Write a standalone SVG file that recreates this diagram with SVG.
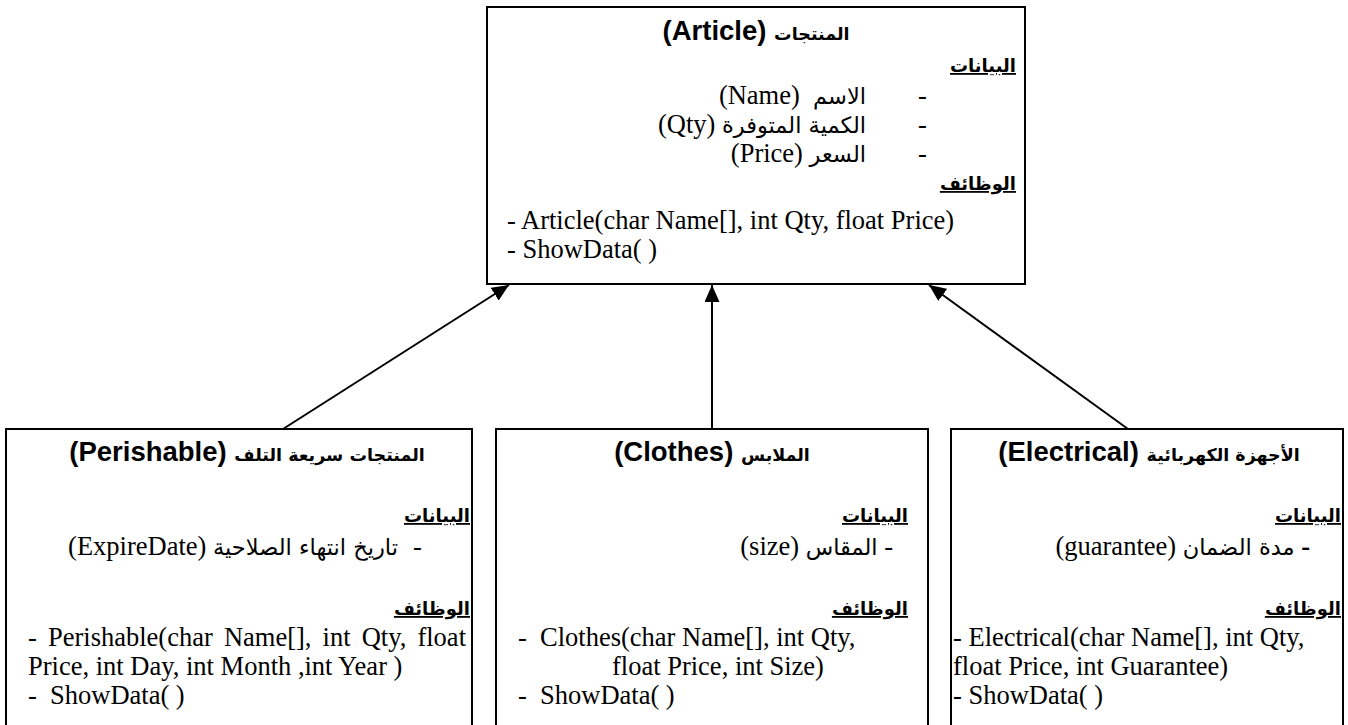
<svg xmlns="http://www.w3.org/2000/svg" width="1348" height="725" viewBox="0 0 1348 725">
<style>
.box{fill:#fff;stroke:#000;stroke-width:2}
.con{stroke:#000;stroke-width:2;fill:none}
.title{font-family:"Liberation Sans","DejaVu Sans",sans-serif;font-weight:bold;font-size:27.5px;fill:#000}
.arb{font-family:"DejaVu Sans",sans-serif;font-weight:bold;font-size:17.5px}
.head{font-family:"DejaVu Sans","Liberation Sans",sans-serif;font-weight:bold;font-size:18px;text-decoration:underline;fill:#000}
.body{font-family:"Liberation Serif","DejaVu Sans",serif;font-size:26.5px;fill:#000}
.ar{font-family:"DejaVu Sans",sans-serif;font-size:22.5px}
</style>
<defs>
<marker id="arrow" markerUnits="userSpaceOnUse" markerWidth="17" markerHeight="15" refX="17" refY="7.5" orient="auto">
<path d="M0,0 L17,7.5 L0,15 z" fill="#000"/>
</marker>
</defs>
<g id="connectors">
<line class="con" x1="283" y1="429" x2="509" y2="285" marker-end="url(#arrow)"/>
<line class="con" x1="712" y1="429" x2="712" y2="285" marker-end="url(#arrow)"/>
<line class="con" x1="1128" y1="429" x2="929" y2="285" marker-end="url(#arrow)"/>
</g>
<g id="article">
<rect class="box" x="487" y="7" width="538" height="277"/>
<text class="title" x="756" y="40" text-anchor="middle" direction="rtl"><tspan class="arb">المنتجات</tspan> (Article)</text>
<text class="head" x="1016" y="72" text-anchor="end">البيانات</text>
<text class="body" x="918" y="104">-</text>
<text class="body" x="918" y="133">-</text>
<text class="body" x="918" y="162">-</text>
<text class="body" x="866" y="104" direction="rtl" text-anchor="start" xml:space="preserve"><tspan class="ar">الاسم</tspan>  (Name)</text>
<text class="body" x="866" y="133" direction="rtl" text-anchor="start"><tspan class="ar">الكمية المتوفرة</tspan> (Qty)</text>
<text class="body" x="866" y="162" direction="rtl" text-anchor="start"><tspan class="ar">السعر</tspan> (Price)</text>
<text class="head" x="1016" y="190" text-anchor="end">الوظائف</text>
<text class="body" x="507" y="229">- Article(char Name[], int Qty, float Price)</text>
<text class="body" x="507" y="258">- ShowData( )</text>
</g>
<g id="perishable">
<rect class="box" x="6" y="429" width="466" height="310"/>
<text class="title" x="247" y="461" text-anchor="middle" direction="rtl"><tspan class="arb">المنتجات سريعة التلف</tspan> (Perishable)</text>
<text class="head" x="470" y="522" text-anchor="end">البيانات</text>
<text class="body" x="413" y="555">-</text>
<text class="body" x="398" y="555" direction="rtl" text-anchor="start"><tspan class="ar">تاريخ انتهاء الصلاحية</tspan> (ExpireDate)</text>
<text class="head" x="470" y="615" text-anchor="end">الوظائف</text>
<text class="body" x="28" y="646" word-spacing="4.5">- Perishable(char Name[], int Qty, float</text>
<text class="body" x="28" y="675">Price, int Day, int Month ,int Year )</text>
<text class="body" x="28" y="704">-</text>
<text class="body" x="50" y="704">ShowData( )</text>
</g>
<g id="clothes">
<rect class="box" x="496" y="429" width="432" height="310"/>
<text class="title" x="712" y="461" text-anchor="middle" direction="rtl"><tspan class="arb">الملابس</tspan> (Clothes)</text>
<text class="head" x="908" y="522" text-anchor="end">البيانات</text>
<text class="body" x="893" y="555" direction="rtl" text-anchor="start">- <tspan class="ar">المقاس</tspan> (size)</text>
<text class="head" x="908" y="615" text-anchor="end">الوظائف</text>
<text class="body" x="518" y="646">-</text>
<text class="body" x="540" y="646">Clothes(char Name[], int Qty,</text>
<text class="body" x="612" y="675">float Price, int Size)</text>
<text class="body" x="518" y="704">-</text>
<text class="body" x="540" y="704">ShowData( )</text>
</g>
<g id="electrical">
<rect class="box" x="951" y="429" width="392" height="310"/>
<text class="title" x="1149" y="461" text-anchor="middle" direction="rtl"><tspan class="arb">الأجهزة الكهربائية</tspan> (Electrical)</text>
<text class="head" x="1341" y="522" text-anchor="end">البيانات</text>
<text class="body" x="1310" y="555" direction="rtl" text-anchor="start"><tspan font-weight="bold">-</tspan> <tspan class="ar">مدة الضمان</tspan> (guarantee)</text>
<text class="head" x="1341" y="615" text-anchor="end">الوظائف</text>
<text class="body" x="953" y="646">- Electrical(char Name[], int Qty,</text>
<text class="body" x="953" y="675">float Price, int Guarantee)</text>
<text class="body" x="953" y="704">- ShowData( )</text>
</g>
</svg>
